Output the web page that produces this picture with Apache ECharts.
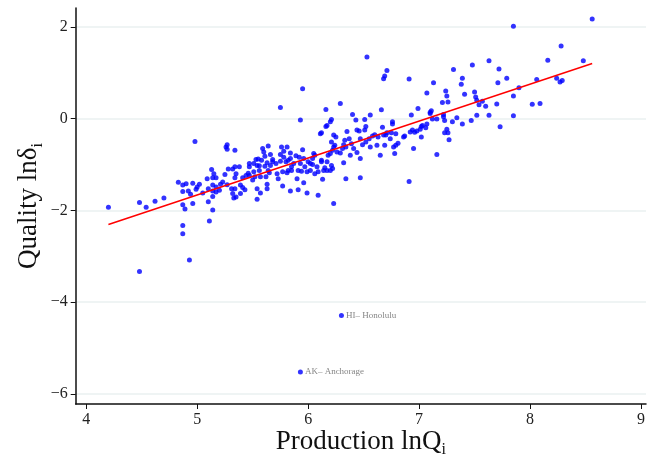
<!DOCTYPE html>
<html>
<head>
<meta charset="utf-8">
<script src="https://cdn.jsdelivr.net/npm/echarts@6/dist/echarts.min.js"></script>
<style>
  html, body { margin: 0; padding: 0; background: #fff; }
  #chart { width: 647px; height: 458px; }
</style>
</head>
<body>
<div id="chart"></div>
<script>
// 数据：ln产量 / ln质量
var lnQ = [
  4.20,4.48,4.54,4.62,4.70,4.48,4.83,4.87,4.90,4.87,4.87,4.89,4.87,4.87,4.93,4.92,4.94,4.96,4.96,4.99,
  5.02,4.98,5.10,5.11,5.14,5.14,5.10,5.09,5.13,5.15,5.14,5.17,5.14,5.17,5.14,5.17,5.20,5.21,5.26,5.27,
  5.27,5.34,5.28,5.27,5.32,5.34,5.38,5.35,5.34,5.31,5.34,5.32,5.33,5.35,5.39,5.39,5.41,5.43,5.41,5.44,
  5.47,5.47,5.47,5.51,5.54,5.53,5.55,5.52,5.54,5.54,5.51,5.50,5.46,5.23,5.25,5.05,5.00,
  5.59,5.60,5.64,5.66,5.61,5.58,5.56,5.61,5.56,5.57,5.64,5.65,5.62,5.63,5.57,5.68,5.71,5.68,5.72,5.73,
  5.76,5.75,5.78,5.81,5.84,5.84,5.80,5.81,5.77,5.84,5.85,5.87,5.89,5.92,5.93,5.91,5.90,5.91,5.95,5.96,
  5.97,5.99,5.96,5.99,6.00,6.02,6.02,6.04,6.06,6.08,6.06,6.09,6.11,6.16,6.12,6.14,6.17,6.17,
  6.53,6.71,6.69,6.68,6.91,7.13,5.95,5.75,5.93,6.16,6.29,7.07,6.99,6.93,7.10,6.66,6.40,6.56,6.51,6.43,
  6.21,6.20,6.17,6.12,6.23,6.25,6.21,6.24,6.23,6.22,6.35,6.37,6.33,6.32,6.31,6.34,6.39,6.41,6.44,6.44,
  6.46,6.52,6.51,6.47,6.49,6.52,6.56,6.55,6.58,6.60,6.62,6.63,6.67,6.68,6.70,6.71,6.69,6.65,6.75,6.74,
  6.76,6.76,6.79,6.79,6.81,6.77,6.87,6.92,6.94,6.98,7.01,7.06,6.95,6.91,6.47,6.34,6.23,6.13,6.09,5.63,
  6.12,6.18,6.20,6.26,6.29,6.32,6.38,6.47,6.21,6.22,6.20,6.15,6.05,6.04,5.94,5.85,5.82,5.82,5.77,5.78,
  5.75,5.63,5.66,6.78,7.02,6.86,6.96,7.02,7.03,7.07,7.10,
  7.85,8.56,8.28,8.16,8.48,7.63,7.48,7.31,7.72,7.39,7.38,7.71,7.79,7.24,7.25,7.50,7.51,7.41,7.90,7.85,
  8.06,8.24,8.27,8.29,7.21,7.26,7.52,7.57,7.54,7.60,7.70,8.02,8.09,7.11,7.22,7.22,7.12,7.16,7.23,7.34,
  7.30,7.52,7.63,7.47,7.39,7.85,7.25,7.23,7.26,7.27,7.73,7.16
];
var lnDelta = [
  -1.93,-1.83,-1.93,-1.80,-1.73,-3.33,-1.39,-1.45,-1.42,-1.59,-1.88,-1.97,-2.33,-2.51,-3.08,-1.58,-1.65,-1.85,-1.41,-1.54,
  -1.43,-0.50,-1.81,-2.23,-1.99,-1.70,-1.53,-1.31,-1.11,-1.20,-1.29,-1.29,-1.45,-1.49,-1.58,-1.60,-1.56,-1.43,-0.62,-0.57,
  -0.67,-0.69,-1.10,-1.44,-1.10,-1.05,-1.05,-1.20,-1.29,-1.53,-1.53,-1.63,-1.73,-1.71,-1.63,-1.45,-1.50,-1.55,-1.29,-1.24,
  -1.24,-0.98,-1.05,-0.98,-1.02,-0.89,-0.88,-1.27,-1.53,-1.76,-1.16,-1.34,-1.19,-1.38,-1.22,-1.62,-1.49,
  -0.65,-0.73,-0.60,-0.78,-0.82,-0.91,-1.03,-1.04,-1.13,-1.27,-1.13,-1.18,-1.27,-1.43,-1.62,-0.94,-0.98,-0.89,-1.20,-1.31,
  -0.62,-0.78,-0.84,-0.62,-0.75,-0.87,-0.94,-1.18,-1.47,-1.58,-1.13,-0.98,-0.81,-0.84,-0.98,-1.13,-1.31,-1.55,-0.68,-0.87,
  -1.05,-1.16,-1.40,-1.62,-0.94,-0.98,-1.13,-0.87,-0.80,-1.05,-1.20,-1.67,-0.33,-0.17,-0.94,-1.13,-0.94,-1.13,
  1.34,1.05,0.93,0.87,0.86,0.78,0.65,0.24,-0.03,0.20,0.33,0.56,0.22,0.08,0.14,0.19,0.09,0.08,-0.02,-0.03,
  -0.02,-0.07,-0.15,-0.31,-0.36,-0.40,-0.51,-0.58,-0.62,-0.69,-0.28,-0.44,-0.47,-0.57,-0.65,-0.62,-0.55,-0.65,-0.74,-0.25,
  -0.27,-0.17,-0.25,-0.44,-0.57,-0.51,-0.62,-0.44,-0.38,-0.35,-0.58,-0.40,-0.19,-0.36,-0.36,-0.31,-0.58,-0.80,-0.31,-0.44,
  -0.07,-0.12,-0.33,-0.58,-0.54,-0.62,-0.38,-0.29,-0.25,-0.27,-0.23,-0.20,-0.65,-1.37,-1.29,-1.31,-1.85,-1.32,-1.16,-1.53,
  -0.91,-0.80,-0.76,-0.73,-0.75,-0.96,-0.80,-0.87,-1.02,-1.09,-1.13,-1.07,-0.76,-1.00,-1.15,-1.05,-0.91,-1.13,-1.16,-0.71,
  -0.93,-0.96,-1.02,-0.76,-0.40,-0.40,-0.30,-0.17,-0.15,-0.12,0.11,
  2.01,2.17,1.58,1.27,1.26,1.26,1.17,1.07,1.08,0.88,0.75,0.78,0.88,0.60,0.49,0.58,0.47,0.53,0.67,0.49,
  0.85,0.88,0.80,0.83,0.35,0.36,0.40,0.38,0.30,0.27,0.32,0.31,0.33,0.17,0.09,0.04,-0.01,-0.01,-0.04,0.02,
  -0.07,0.07,0.07,-0.04,-0.12,0.06,-0.23,-0.31,-0.31,-0.46,-0.18,-0.78
];
// 离群城市
var outlierNames = ['HI– Honolulu', 'AK– Anchorage'];
var outlierQ = [6.30, 5.93];
var outlierDelta = [-4.29, -5.52];
// 拟合线端点
var fitQ = [4.20, 8.56];
var fitDelta = [-2.31, 1.20];
var xTicks = [4, 5, 6, 7, 8, 9];
var yTicks = [-6, -4, -2, 0, 2];

var serif = 'Liberation Serif, Times New Roman, serif';
var points = lnQ.map(function (q, i) { return [q, lnDelta[i]]; });
var outliers = outlierQ.map(function (q, i) {
    return { value: [q, outlierDelta[i]], name: outlierNames[i] };
});
var fitLine = fitQ.map(function (q, i) { return [q, fitDelta[i]]; });

function minus(v) { return String(v).replace('-', '−'); }

var nameRich = {
    a: { fontFamily: serif, fontSize: 27, color: '#111', lineHeight: 30, verticalAlign: 'top' },
    s: { fontFamily: serif, fontSize: 16, color: '#111', lineHeight: 14, verticalAlign: 'bottom' }
};

var myChart = echarts.init(document.getElementById('chart'));
var option = {
    animation: false,
    grid: { left: 75.7, right: 1, top: 8, bottom: 54, outerBoundsMode: 'none', containLabel: false },
    xAxis: {
        type: 'value',
        min: 3.905, max: 9.045,
        name: '{a|Production lnQ}{s|i}',
        nameLocation: 'middle',
        nameGap: 24,
        nameMoveOverlap: false,
        nameTextStyle: { rich: nameRich },
        axisLine: { onZero: false, lineStyle: { color: '#111', width: 1.5 } },
        axisTick: { show: true, length: 5, inside: false, customValues: xTicks, lineStyle: { color: '#111' } },
        axisLabel: { customValues: xTicks, fontFamily: serif, fontSize: 16, color: '#222', margin: 8, formatter: minus },
        splitLine: { show: false }
    },
    yAxis: {
        type: 'value',
        min: -6.22, max: 2.41,
        name: '{a|Quality lnδ}{s|i}',
        nameLocation: 'middle',
        nameGap: 30,
        nameMoveOverlap: false,
        nameTextStyle: { rich: nameRich },
        axisLine: { show: true, onZero: false, lineStyle: { color: '#111', width: 1.5 } },
        axisTick: { show: true, length: 5, inside: false, customValues: yTicks, lineStyle: { color: '#111' } },
        axisLabel: { customValues: yTicks, fontFamily: serif, fontSize: 16, color: '#222', margin: 8, formatter: minus },
        splitLine: { show: true, lineStyle: { color: '#eaf0f0', width: 1.5 } }
    },
    series: [
        {
            type: 'scatter',
            data: points,
            symbolSize: 5,
            itemStyle: { color: '#0000ff' }
        },
        {
            type: 'scatter',
            data: outliers,
            symbolSize: 5,
            itemStyle: { color: '#0000ff' },
            label: {
                show: true,
                position: 'right',
                distance: 2,
                formatter: '{b}',
                fontFamily: serif,
                fontSize: 9,
                color: '#666'
            }
        },
        {
            type: 'line',
            data: fitLine,
            symbol: 'none',
            lineStyle: { color: '#ff0000', width: 1.5 }
        }
    ]
};
myChart.setOption(option);
</script>
</body>
</html>
